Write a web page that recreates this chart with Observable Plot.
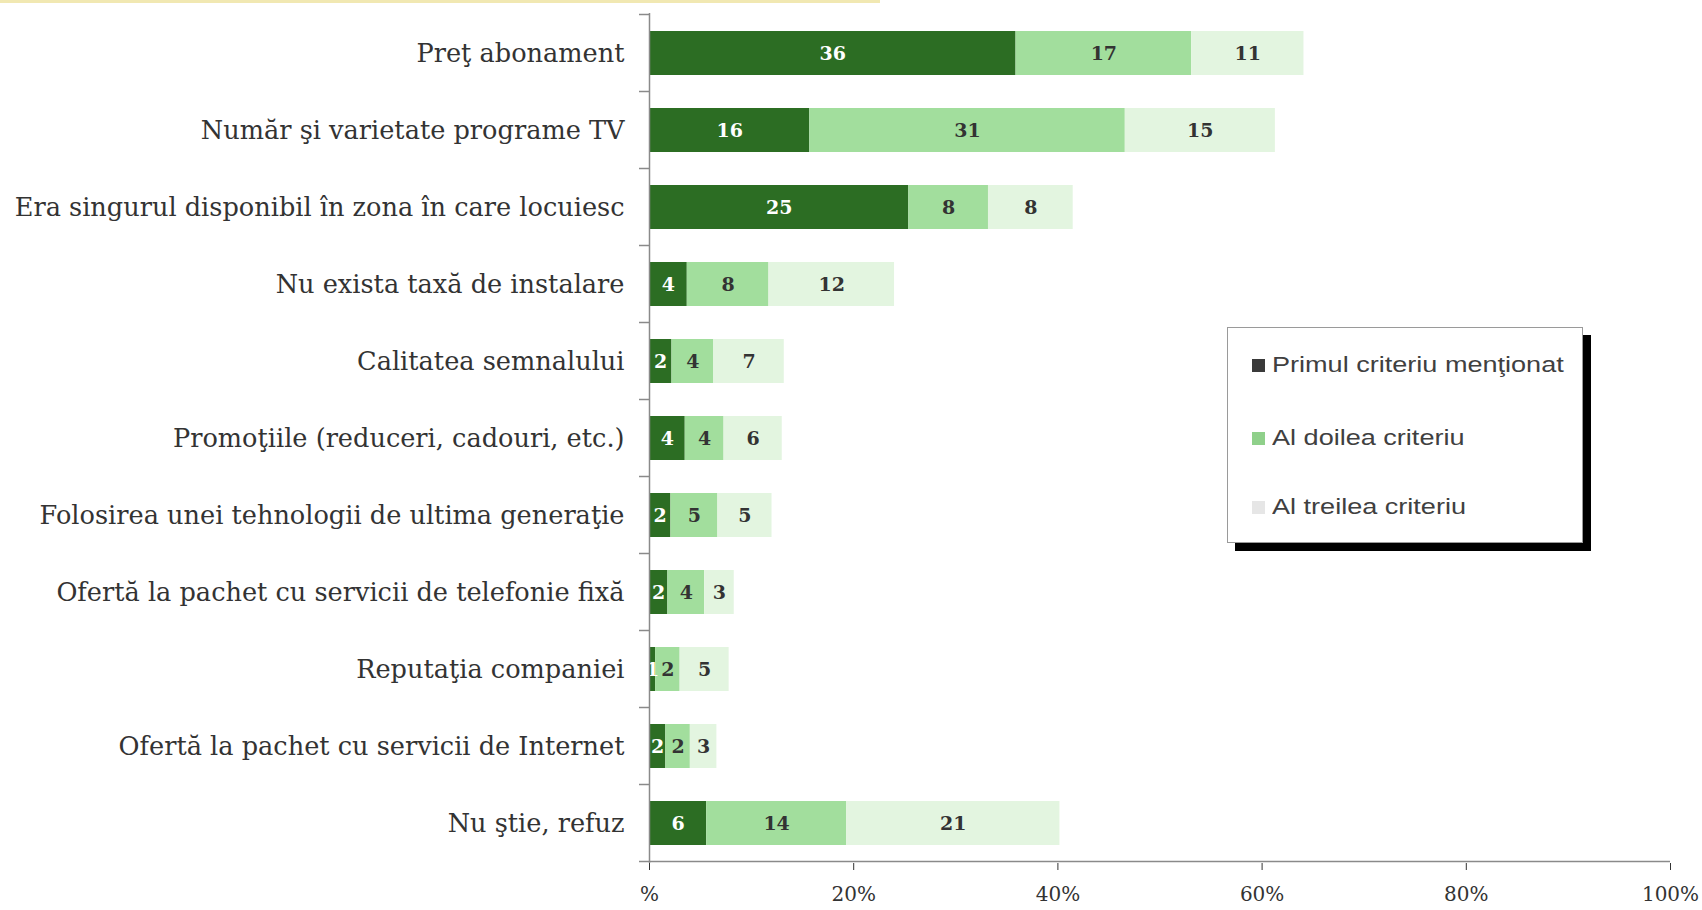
<!DOCTYPE html>
<html>
<head>
<meta charset="utf-8">
<script src="https://cdn.jsdelivr.net/npm/d3@7"></script>
<script src="https://cdn.jsdelivr.net/npm/@observablehq/plot@0.6"></script>
<style>
  html, body { margin: 0; padding: 0; background: #fff; }
  #wrap { position: relative; width: 1702px; height: 910px; overflow: hidden; }
  #topline { position: absolute; left: 0; top: 0; width: 880px; height: 3px; background: #f1e8b2; }
  #legend { position: absolute; left: 1227px; top: 327px; width: 354px; height: 214px;
            border: 1px solid #9a9a9a; background: #fff; box-shadow: 8px 8px 0 #000;
            font-family: "Liberation Sans", Arial, sans-serif; font-size: 22px; color: #404040; }
  .item { position: absolute; left: 24px; display: flex; align-items: center; white-space: nowrap; }
  .sw { width: 13px; height: 13px; margin-right: 7px; }
  .item span { display: inline-block; transform: scaleX(1.23); transform-origin: left center; }
</style>
</head>
<body>
<div id="wrap">
  <div id="chart"></div>
  <div id="topline"></div>
  <div id="legend"></div>
</div>
<script>
// ---- data ----
const categories = [
  "Preţ abonament",
  "Număr şi varietate programe TV",
  "Era singurul disponibil în zona în care locuiesc",
  "Nu exista taxă de instalare",
  "Calitatea semnalului",
  "Promoţiile (reduceri, cadouri, etc.)",
  "Folosirea unei tehnologii de ultima generaţie",
  "Ofertă la pachet cu servicii de telefonie fixă",
  "Reputaţia companiei",
  "Ofertă la pachet cu servicii de Internet",
  "Nu ştie, refuz"
];
const firstCriterion  = [35.9, 15.7, 25.4, 3.7, 2.2, 3.5, 2.1, 1.8, 0.6, 1.6, 5.6];
const secondCriterion = [17.2, 30.9, 7.8, 8.0, 4.1, 3.8, 4.6, 3.6, 2.4, 2.4, 13.7];
const thirdCriterion  = [11.0, 14.7, 8.3, 12.3, 6.9, 5.7, 5.3, 2.9, 4.8, 2.6, 20.9];
const seriesNames = ["Primul criteriu menţionat", "Al doilea criteriu", "Al treilea criteriu"];
const seriesColors = ["#2c6d23", "#a2de9d", "#e3f5e0"];
const legendSwatches = ["#3a3a3a", "#8fd08a", "#e6e6e6"];
const xTickValues = [0, 20, 40, 60, 80, 100];
const xTickLabels = ["%", "20%", "40%", "60%", "80%", "100%"];

// ---- table ----
const seriesValues = [firstCriterion, secondCriterion, thirdCriterion];
const rows = categories.flatMap((c, i) =>
  seriesNames.map((s, j) => ({category: c, series: s, value: seriesValues[j][i]})));

const W = 1702, H = 910, mTop = 13, mBottom = 47, mLeft = 649, mRight = 32;
const serif = "'DejaVu Serif', Georgia, serif";
const fmt = d3.format(".0f");

const chart = Plot.plot({
  width: W, height: H,
  marginTop: mTop, marginBottom: mBottom, marginLeft: mLeft, marginRight: mRight,
  style: {fontFamily: serif, fontSize: "25.6px", color: "#333", background: "transparent"},
  x: {domain: [0, 100], ticks: xTickValues,
      tickFormat: d => xTickLabels[xTickValues.indexOf(d)],
      tickSize: 7, tickPadding: 16, label: null},
  y: {domain: categories, paddingInner: 0.43, paddingOuter: 0.215,
      tickSize: 0, tickPadding: 25, label: null},
  color: {domain: seriesNames, range: seriesColors},
  marks: [
    Plot.barX(rows, Plot.stackX({x: "value", y: "category", fill: "series"})),
    Plot.text(rows.filter(d => d.series === seriesNames[0]),
      Plot.stackX({x: "value", y: "category", text: d => fmt(d.value),
        fill: "white", fontWeight: "bold", fontSize: 19})),
    Plot.text(rows,
      Plot.stackX({x: "value", y: "category", z: "series",
        text: d => d.series === seriesNames[0] ? "" : fmt(d.value),
        fill: "#333", fontWeight: "bold", fontSize: 19})),
    Plot.ruleX([0], {stroke: "#8a8a8a", strokeWidth: 1.5})
  ]
});
document.getElementById("chart").appendChild(chart);
d3.select(chart).selectAll("[aria-label='x-axis'] text, g[aria-label='x-axis tick label'] text")
  .attr("font-size", 20);

// axis line and category boundary ticks, from Plot's scales
const xs = chart.scale("x"), ys = chart.scale("y");
const svg = d3.select(chart);
const x0 = xs.apply(0), x1 = xs.apply(100);
const step = ys.step;
const bounds = categories.map(c => ys.apply(c) - (step - ys.bandwidth) / 2);
bounds.push(ys.apply(categories[categories.length - 1]) + ys.bandwidth + (step - ys.bandwidth) / 2);
const g = svg.append("g").attr("stroke", "#8a8a8a").attr("stroke-width", 1.5);
g.append("line").attr("x1", x0).attr("x2", x1)
  .attr("y1", bounds[bounds.length - 1]).attr("y2", bounds[bounds.length - 1]);
g.selectAll("line.b").data(bounds).join("line").attr("class", "b")
  .attr("x1", x0 - 10).attr("x2", x0).attr("y1", d => d).attr("y2", d => d);

// legend
const legend = document.getElementById("legend");
const itemTops = [24, 97, 166];
seriesNames.forEach((s, i) => {
  const it = document.createElement("div");
  it.className = "item";
  it.style.top = itemTops[i] + "px";
  it.innerHTML = `<div class="sw" style="background:${legendSwatches[i]}"></div><span>${s}</span>`;
  legend.appendChild(it);
});
</script>
</body>
</html>
